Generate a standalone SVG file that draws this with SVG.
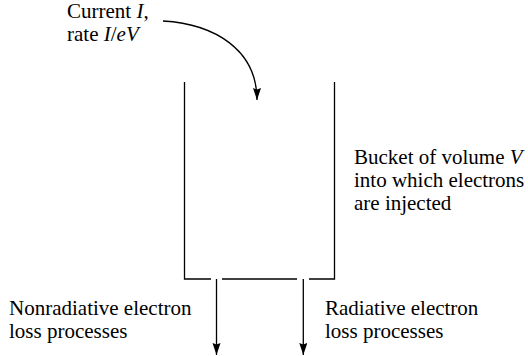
<svg xmlns="http://www.w3.org/2000/svg" width="528" height="356" viewBox="0 0 528 356" font-family="Liberation Serif, Times New Roman, serif" font-size="21">
<style>
.i{font-style:italic}
.ln{fill:none;stroke:#000;stroke-width:1.3}
</style>
<defs>
<marker id="ah" markerUnits="userSpaceOnUse" markerWidth="13" markerHeight="9" refX="12" refY="4" orient="auto">
<path d="M0,0 L12,4 L0,8 L1.5,4 z" fill="#000"/>
</marker>
</defs>
<rect width="528" height="356" fill="#fff"/>
<g id="bucket">
<path class="ln" d="M184.5,82 V279 H211 M222,279 H297 M309,279 H334.5 V82"/>
</g>
<g id="connectors">
<path class="ln" d="M163,21 C215,24 257,50 257,100" marker-end="url(#ah)"/>
<line class="ln" x1="216.5" y1="279" x2="216.5" y2="355" marker-end="url(#ah)"/>
<line class="ln" x1="303.3" y1="279" x2="303.3" y2="355" marker-end="url(#ah)"/>
</g>
<g id="current-label">
<text x="67" y="18">Current <tspan class="i">I</tspan>,</text>
<text x="67" y="41">rate <tspan class="i">I</tspan>/<tspan class="i">eV</tspan></text>
</g>
<g id="bucket-label">
<text x="354" y="164">Bucket of volume <tspan class="i">V</tspan></text>
<text x="354" y="187">into which electrons</text>
<text x="354" y="210">are injected</text>
</g>
<g id="nonradiative-label">
<text x="9" y="315">Nonradiative electron</text>
<text x="9" y="338">loss processes</text>
</g>
<g id="radiative-label">
<text x="325" y="315">Radiative electron</text>
<text x="325" y="338">loss processes</text>
</g>
</svg>
